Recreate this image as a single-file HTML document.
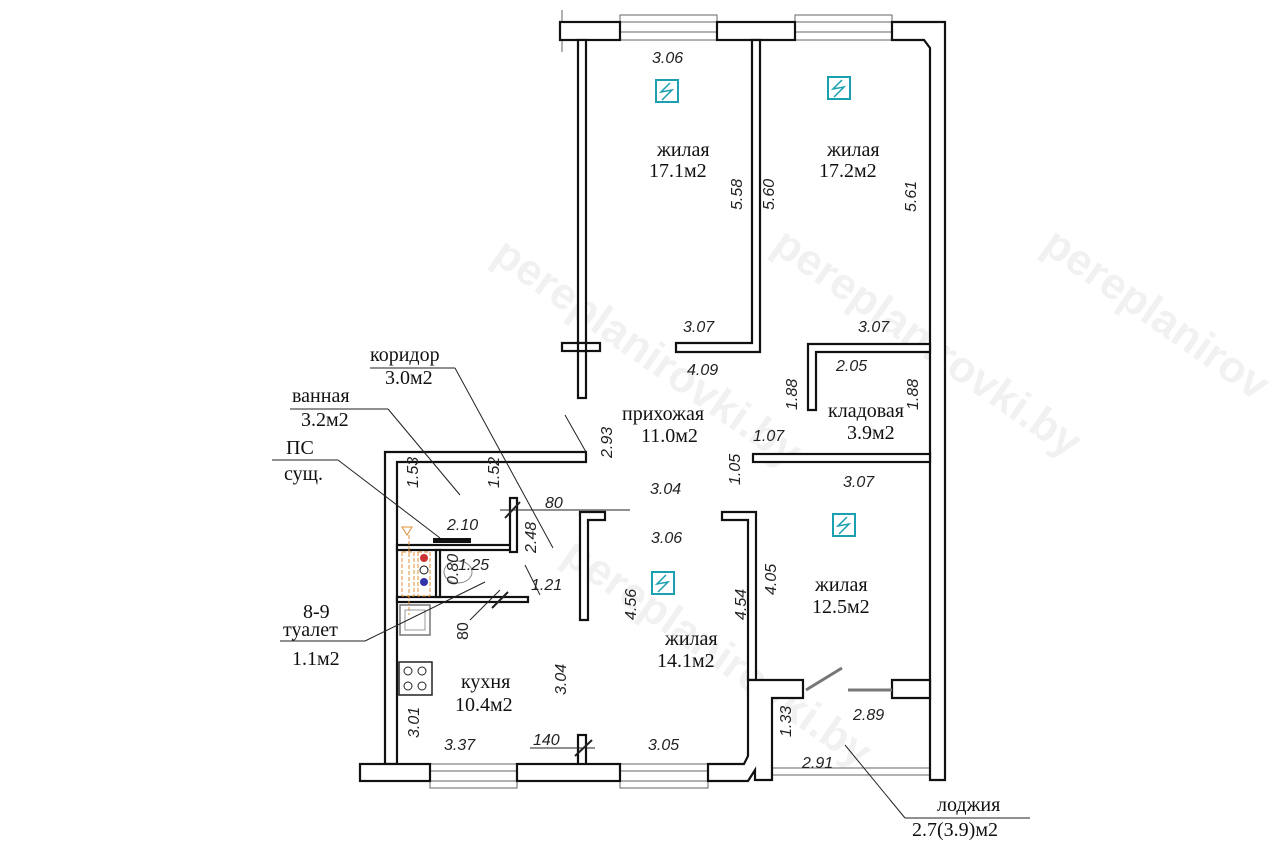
<!DOCTYPE html>
<html><head><meta charset="utf-8"><style>
html,body{margin:0;padding:0;background:#fff;width:1280px;height:853px;overflow:hidden;}
svg{display:block;overflow:hidden;}
.d{font-family:"Liberation Sans",sans-serif;font-style:italic;font-size:16px;fill:#222;}
.r{font-family:"Liberation Serif","Noto Serif CJK SC",serif;font-size:20px;fill:#111;}
.w{fill:#fff;stroke:#111;stroke-width:2.2;}
.wm{font-family:"Liberation Sans",sans-serif;font-weight:bold;font-size:44px;fill:#000;opacity:0.05;}
</style></head><body>
<svg width="1280" height="853" viewBox="0 0 1280 853" xmlns="http://www.w3.org/2000/svg">
<text class="wm" transform="translate(490,260) rotate(35)">pereplanirovki.by</text>
<text class="wm" transform="translate(770,250) rotate(35)">pereplanirovki.by</text>
<text class="wm" transform="translate(1040,250) rotate(35)">pereplanirov</text>
<text class="wm" transform="translate(560,560) rotate(35)">pereplanirovki.by</text>

<g fill="none" stroke="#666" stroke-width="1">
<rect x="620" y="15" width="97" height="7"/><line x1="620" y1="32" x2="717" y2="32"/><line x1="620" y1="40" x2="717" y2="40"/>
<rect x="795" y="15" width="97" height="7"/><line x1="795" y1="32" x2="892" y2="32"/><line x1="795" y1="40" x2="892" y2="40"/>
<line x1="562" y1="10" x2="562" y2="52"/>
<rect x="430" y="781" width="87" height="7"/><line x1="430" y1="771" x2="517" y2="771"/><line x1="430" y1="764" x2="517" y2="764"/>
<rect x="620" y="781" width="88" height="7"/><line x1="620" y1="771" x2="708" y2="771"/><line x1="620" y1="764" x2="708" y2="764"/>
<line x1="772" y1="768" x2="930" y2="768"/><line x1="772" y1="775" x2="930" y2="775"/>
</g>

<rect class="w" x="560" y="22" width="60" height="18"/>
<rect class="w" x="717" y="22" width="78" height="18"/>
<polygon class="w" points="892,22 945,22 945,780 930,780 930,48 924,40 892,40"/>
<rect class="w" x="578" y="40" width="8" height="358"/>
<rect class="w" x="562" y="343" width="38" height="8"/>
<rect class="w" x="578" y="343" width="8" height="8" stroke="none"/>
<polygon class="w" points="752,40 760,40 760,352 676,352 676,343 752,343"/>
<polygon class="w" points="808,344 930,344 930,352 816,352 816,410 808,410"/>
<rect class="w" x="753" y="454" width="177" height="8"/>
<polygon class="w" points="385,452 586,452 586,462 397,462 397,764 385,764"/>
<rect class="w" x="397" y="545" width="115" height="5"/>
<rect class="w" x="510" y="498" width="7" height="54"/>
<rect class="w" x="397" y="597" width="131" height="5"/>
<rect class="w" x="436" y="550" width="4" height="47"/>
<rect x="433" y="538" width="38" height="5" fill="#111"/>
<polygon class="w" points="580,512 605,512 605,520 588,520 588,620 580,620"/>
<polygon class="w" points="722,512 756,512 756,680 748,680 748,520 722,520"/>
<rect class="w" x="578" y="735" width="8" height="30"/>
<rect class="w" x="360" y="764" width="70" height="17"/>
<rect class="w" x="517" y="764" width="103" height="17"/>
<polygon class="w" points="708,764 744,764 748,756 748,680 803,680 803,698 772,698 772,780 755,780 755,770 748,781 708,781"/>
<polygon class="w" points="892,680 930,680 930,698 892,698"/>
<line x1="806" y1="690" x2="842" y2="668" stroke="#777" stroke-width="3"/>
<line x1="848" y1="690" x2="892" y2="690" stroke="#777" stroke-width="3"/>

<g fill="none" stroke="#e0903a" stroke-width="1" stroke-dasharray="4,2">
<rect x="402" y="552" width="12" height="44"/><rect x="418" y="552" width="12" height="44"/>
<line x1="409" y1="535" x2="409" y2="615"/>
</g>
<polygon points="402,527 412,527 407,535" fill="none" stroke="#e0903a"/>
<circle cx="424" cy="558" r="4" fill="#c33"/><circle cx="424" cy="570" r="4" fill="none" stroke="#111"/><circle cx="424" cy="582" r="4" fill="#33a"/>
<ellipse cx="458" cy="572" rx="14" ry="11" fill="none" stroke="#888"/>
<rect x="400" y="605" width="30" height="30" fill="none" stroke="#777" stroke-width="1.5"/>
<rect x="405" y="610" width="20" height="20" fill="none" stroke="#999"/>
<rect x="399" y="662" width="33" height="33" fill="none" stroke="#222" stroke-width="1.5"/>
<g fill="none" stroke="#222"><circle cx="408" cy="671" r="4"/><circle cx="422" cy="671" r="4"/><circle cx="408" cy="686" r="4"/><circle cx="422" cy="686" r="4"/></g>

<g fill="#fff" stroke="#1aa0b0" stroke-width="2">
<rect x="656" y="80" width="22" height="22"/><rect x="828" y="77" width="22" height="22"/>
<rect x="833" y="514" width="22" height="22"/><rect x="652" y="572" width="22" height="22"/>
</g>
<g fill="none" stroke="#1aa0b0" stroke-width="1.5">
<path d="M670,83 L661,92 L672,90 L662,100"/><path d="M842,80 L833,89 L844,87 L834,97"/>
<path d="M847,517 L838,526 L849,524 L839,534"/><path d="M666,575 L657,584 L668,582 L658,592"/>
</g>

<g fill="none" stroke="#222" stroke-width="1">
<line x1="370" y1="368" x2="455" y2="368"/><line x1="455" y1="368" x2="553" y2="548"/>
<line x1="290" y1="409" x2="388" y2="409"/><line x1="388" y1="409" x2="460" y2="495"/>
<line x1="272" y1="460" x2="338" y2="460"/><line x1="338" y1="460" x2="440" y2="538"/>
<line x1="280" y1="641" x2="365" y2="641"/><line x1="365" y1="641" x2="485" y2="582"/>
<line x1="565" y1="415" x2="586" y2="452"/>
<line x1="500" y1="510" x2="630" y2="510"/><line x1="505" y1="518" x2="520" y2="502" stroke-width="2"/>
<line x1="470" y1="620" x2="500" y2="590"/><line x1="492" y1="608" x2="508" y2="592" stroke-width="2"/>
<line x1="540" y1="595" x2="525" y2="565"/>
<line x1="530" y1="748" x2="595" y2="748"/><line x1="575" y1="756" x2="592" y2="740" stroke-width="2"/>
<line x1="845" y1="745" x2="905" y2="818"/><line x1="905" y1="818" x2="1030" y2="818"/>
</g>

<text class="d" x="652" y="63">3.06</text>
<text class="d" x="683" y="332">3.07</text>
<text class="d" x="858" y="332">3.07</text>
<text class="d" x="687" y="375">4.09</text>
<text class="d" x="836" y="371">2.05</text>
<text class="d" x="753" y="441">1.07</text>
<text class="d" x="650" y="494">3.04</text>
<text class="d" x="843" y="487">3.07</text>
<text class="d" x="651" y="543">3.06</text>
<text class="d" x="531" y="590">1.21</text>
<text class="d" x="447" y="530">2.10</text>
<text class="d" x="458" y="570">1.25</text>
<text class="d" x="853" y="720">2.89</text>
<text class="d" x="802" y="768">2.91</text>
<text class="d" x="444" y="750">3.37</text>
<text class="d" x="648" y="750">3.05</text>
<text class="d" x="533" y="745" font-style="normal">140</text>
<text class="d" x="545" y="508" font-style="normal">80</text>
<g class="d">
<text transform="translate(742,210) rotate(-90)">5.58</text>
<text transform="translate(774,210) rotate(-90)">5.60</text>
<text transform="translate(916,212) rotate(-90)">5.61</text>
<text transform="translate(797,410) rotate(-90)">1.88</text>
<text transform="translate(918,410) rotate(-90)">1.88</text>
<text transform="translate(612,458) rotate(-90)">2.93</text>
<text transform="translate(740,485) rotate(-90)">1.05</text>
<text transform="translate(418,488) rotate(-90)">1.53</text>
<text transform="translate(499,488) rotate(-90)">1.52</text>
<text transform="translate(536,553) rotate(-90)">2.48</text>
<text transform="translate(458,585) rotate(-90)">0.80</text>
<text transform="translate(468,640) rotate(-90)" font-style="normal">80</text>
<text transform="translate(636,620) rotate(-90)">4.56</text>
<text transform="translate(746,620) rotate(-90)">4.54</text>
<text transform="translate(776,595) rotate(-90)">4.05</text>
<text transform="translate(566,695) rotate(-90)">3.04</text>
<text transform="translate(419,738) rotate(-90)">3.01</text>
<text transform="translate(791,737) rotate(-90)">1.33</text>
</g>

<text class="r" x="657" y="156">жилая</text>
<text class="r" x="649" y="177">17.1м2</text>
<text class="r" x="827" y="156">жилая</text>
<text class="r" x="819" y="177">17.2м2</text>
<text class="r" x="622" y="420">прихожая</text>
<text class="r" x="641" y="442">11.0м2</text>
<text class="r" x="828" y="417">кладовая</text>
<text class="r" x="847" y="439">3.9м2</text>
<text class="r" x="815" y="591">жилая</text>
<text class="r" x="812" y="613">12.5м2</text>
<text class="r" x="665" y="645">жилая</text>
<text class="r" x="657" y="667">14.1м2</text>
<text class="r" x="461" y="688">кухня</text>
<text class="r" x="455" y="711">10.4м2</text>
<text class="r" x="370" y="361">коридор</text>
<text class="r" x="385" y="384">3.0м2</text>
<text class="r" x="292" y="402">ванная</text>
<text class="r" x="301" y="426">3.2м2</text>
<text class="r" x="286" y="454">ПС</text>
<text class="r" x="284" y="480">сущ.</text>
<text class="r" x="303" y="618">8-9</text>
<text class="r" x="283" y="636">туалет</text>
<text class="r" x="292" y="665">1.1м2</text>
<text class="r" x="937" y="811">лоджия</text>
<text class="r" x="912" y="836">2.7(3.9)м2</text>
</svg>
</body></html>
